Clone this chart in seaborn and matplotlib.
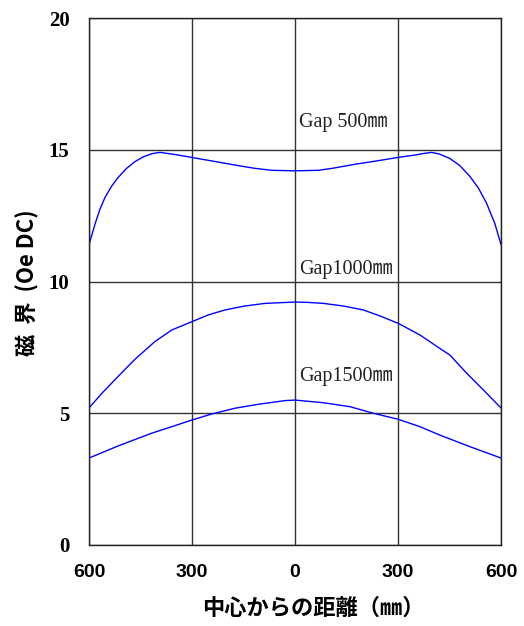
import matplotlib
matplotlib.use("Agg")
import matplotlib.pyplot as plt
import seaborn as sns
import pandas as pd

# Data (distance from centre in mm, field in Oe DC)
x_gap500 = [-600, -582, -568, -553, -534, -515, -490, -466, -442, -417, -393, -350, -301,
            -240, -175, -120, -68, 0, 68, 111, 175, 240, 301, 350, 375, 398, 420,
            451, 480, 510, 534, 558, 582, 600]
y_gap500 = [11.4, 12.2, 12.75, 13.2, 13.62, 13.95, 14.3, 14.55, 14.73, 14.85, 14.9, 14.82, 14.71,
            14.57, 14.42, 14.3, 14.22, 14.2, 14.22, 14.3, 14.45, 14.58, 14.71, 14.8, 14.86, 14.9, 14.84,
            14.67, 14.4, 13.98, 13.55, 12.97, 12.2, 11.4]

x_gap1000 = [-600, -563, -515, -466, -408, -359, -301, -253, -204, -146, -87, 0,
             34, 82, 141, 199, 248, 301, 364, 422, 451, 500, 549, 600]
y_gap1000 = [5.2, 5.75, 6.4, 7.05, 7.72, 8.16, 8.47, 8.73, 8.92, 9.07, 9.17, 9.22,
             9.21, 9.17, 9.07, 8.92, 8.69, 8.41, 7.97, 7.46, 7.21, 6.52, 5.88, 5.2]

x_gap1500 = [-600, -515, -418, -359, -301, -243, -175, -107, -29, 0, 82, 160, 228, 301,
             364, 422, 510, 600]
y_gap1500 = [3.3, 3.76, 4.24, 4.49, 4.74, 4.97, 5.19, 5.34, 5.48, 5.5, 5.4, 5.25, 5.0, 4.77,
             4.49, 4.17, 3.73, 3.3]

labels = ["Gap 500㎜", "Gap1000㎜", "Gap1500㎜"]
label_x = [12, 12, 12]
label_y = [16.03, 10.47, 6.38]

xticks = [-600, -300, 0, 300, 600]
xticklabels = ["600", "300", "0", "300", "600"]
yticks = [0, 5, 10, 15, 20]

sns.set_style("white")
plt.rcParams["font.family"] = ["Liberation Sans", "Noto Sans CJK JP"]

fig = plt.figure(figsize=(5.24, 6.26), dpi=100)
ax = fig.add_axes([89/524, 1-545/626, (501-89)/524, (545-18)/626])

for xs, ys in [(x_gap500, y_gap500), (x_gap1000, y_gap1000), (x_gap1500, y_gap1500)]:
    df = pd.DataFrame({"x": xs, "y": ys})
    sns.lineplot(data=df, x="x", y="y", ax=ax, color="#0000FF", linewidth=1.0,
                 estimator=None, sort=True)

for t, lx, ly in zip(labels, label_x, label_y):
    ax.text(lx, ly, t, ha="left", va="center", fontsize=14.5, color="#222222",
            family=["Liberation Serif", "Noto Sans CJK JP"])

ax.set_xlim(-600, 600)
ax.set_ylim(0, 20)
ax.set_xticks(xticks)
ax.set_xticklabels(xticklabels)
ax.set_yticks(yticks)
ax.grid(True, color="#333333", linewidth=1.0)
for s in ax.spines.values():
    s.set_color("#222222")
    s.set_linewidth(1.0)
ax.tick_params(axis="both", length=0, labelsize=14, labelcolor="black")
ax.tick_params(axis="x", pad=14)
ax.tick_params(axis="y", pad=14)
for lab in ax.get_xticklabels():
    lab.set_fontweight("bold")
for lab in ax.get_yticklabels():
    lab.set_fontweight("bold")
    lab.set_family(["Liberation Serif"])
    lab.set_fontsize(15)
ax.set_xlabel("")
ax.set_ylabel("")

fig.text(313/524, 1-608/626, "中心からの距離（㎜）", ha="center", va="center",
         fontsize=16, fontweight="bold", color="black", family=["Noto Sans CJK JP"])
fig.text(28/524, 1-283/626, "磁  界  (Oe DC)", ha="center", va="center", rotation=90,
         fontsize=16, fontweight="bold", color="black", family=["Noto Sans CJK JP"])

fig.savefig("out.png", dpi=100)
